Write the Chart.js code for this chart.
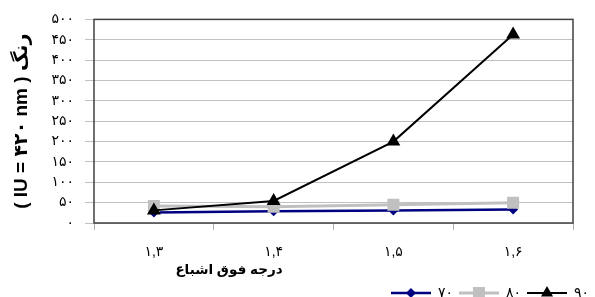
<!DOCTYPE html>
<html>
<head>
<meta charset="utf-8">
<script src="https://cdn.jsdelivr.net/npm/chart.js@4.4.1/dist/chart.umd.min.js"></script>
<style>
html,body{margin:0;padding:0;background:#fff;}
#wrap{width:595px;height:297px;position:relative;}
</style>
</head>
<body>
<div id="wrap"><canvas id="c" width="595" height="297"></canvas></div>
<script>
const categories = ['۱,۳', '۱,۴', '۱,۵', '۱,۶'];
const seriesNames = ['۷۰', '۸۰', '۹۰'];
const series70 = [26, 29, 31, 33];
const series80 = [42, 40, 45, 50];
const series90 = [31, 54, 200, 463];
const yTickLabels = ['۰','۵۰','۱۰۰','۱۵۰','۲۰۰','۲۵۰','۳۰۰','۳۵۰','۴۰۰','۴۵۰','۵۰۰'];
const xTitle = 'درجه فوق اشباع';
const yTitle = '( IU = ۴۲۰ nm ) رنگ';

const FONT = "'Liberation Sans', Arial, 'DejaVu Sans', sans-serif";

function legendImage(color, lw, style, r) {
  const cv = document.createElement('canvas');
  cv.width = 40; cv.height = 16;
  const g = cv.getContext('2d');
  g.strokeStyle = color; g.lineWidth = lw;
  g.beginPath(); g.moveTo(0, 8); g.lineTo(40, 8); g.stroke();
  g.fillStyle = color;
  g.beginPath();
  if (style === 'rectRot') {
    g.moveTo(20 - r, 8); g.lineTo(20, 8 - r); g.lineTo(20 + r, 8); g.lineTo(20, 8 + r);
  } else if (style === 'rect') {
    const s = Math.SQRT1_2 * r; g.rect(20 - s, 8 - s, 2 * s, 2 * s);
  } else {
    const h = r;
    g.moveTo(20, 8 - h); g.lineTo(20 + Math.sin(Math.PI*2/3)*h, 8 - Math.cos(Math.PI*2/3)*h);
    g.lineTo(20 - Math.sin(Math.PI*2/3)*h, 8 - Math.cos(Math.PI*2/3)*h);
  }
  g.closePath(); g.fill();
  return cv;
}

const styles = [
  {color:'#000080', lw:2.5, ps:'rectRot', r:5, lr:5, order:2},
  {color:'#c0c0c0', lw:3, ps:'rect', r:8.5, lr:8.5, order:1},
  {color:'#000000', lw:2, ps:'triangle', r:8, lr:7, order:0}
];
const dataArr = [series70, series80, series90];
const legendImgs = styles.map(s => legendImage(s.color, s.lw, s.ps, s.lr));

const framePlugin = {
  id: 'frame',
  beforeDatasetsDraw(chart) {
    const {ctx, chartArea: a} = chart;
    ctx.save();
    ctx.strokeStyle = '#404040';
    ctx.lineWidth = 1.5;
    ctx.strokeRect(a.left, a.top, a.right - a.left, a.bottom - a.top);
    ctx.restore();
  },
  afterDraw(chart) {
    const {ctx} = chart;
    ctx.save();
    ctx.font = "bold 13.5px " + FONT;
    ctx.fillStyle = '#000';
    ctx.textAlign = 'center';
    ctx.textBaseline = 'middle';
    ctx.fillText(xTitle, 229, 270);
    ctx.restore();
  }
};

new Chart(document.getElementById('c'), {
  type: 'line',
  data: {
    labels: categories,
    datasets: dataArr.map((d, i) => ({
      label: seriesNames[i],
      data: d,
      borderColor: styles[i].color,
      backgroundColor: styles[i].color,
      borderWidth: styles[i].lw,
      pointStyle: styles[i].ps,
      pointRadius: styles[i].r,
      pointHoverRadius: styles[i].r,
      pointBorderWidth: 0,
      order: styles[i].order,
      tension: 0,
      fill: false
    }))
  },
  options: {
    responsive: false,
    animation: false,
    devicePixelRatio: 1,
    layout: { padding: { left: 0, right: 0, top: 19, bottom: -13 } },
    plugins: {
      tooltip: { enabled: false },
      legend: {
        position: 'bottom',
        align: 'end',
        labels: {
          font: { size: 14, family: FONT },
          color: '#000',
          padding: 6,
          usePointStyle: true,
          pointStyleWidth: 40,
          sort: (a, b) => a.datasetIndex - b.datasetIndex,
          generateLabels: (chart) => Chart.defaults.plugins.legend.labels.generateLabels(chart).map(l => {
            l.pointStyle = legendImgs[l.datasetIndex];
            l.lineWidth = 0;
            return l;
          })
        }
      }
    },
    scales: {
      x: {
        offset: true,
        grid: { offset: true, drawOnChartArea: false, drawTicks: true, tickLength: 7, color: '#b0b0b0' },
        border: { display: false },
        ticks: { font: { size: 14, family: FONT }, color: '#000', padding: 14 },
        afterFit: (s) => { s.height = 57; }
      },
      y: {
        min: 0, max: 500,
        grid: { color: '#c0c0c0', tickLength: 9, lineWidth: 1 },
        border: { display: false },
        ticks: {
          stepSize: 50,
          font: { size: 14, family: FONT },
          color: '#000',
          padding: 11,
          callback: (v) => yTickLabels[Math.round(v / 50)]
        },
        title: {
          display: true,
          text: yTitle,
          font: { size: 19, weight: 'bold', family: FONT },
          color: '#000',
          padding: { top: 10, bottom: 0 }
        },
        afterFit: (s) => { s.width = 94; }
      },
      yR: {
        position: 'right',
        display: true,
        min: 0, max: 500,
        grid: { display: false, drawTicks: false },
        border: { display: false },
        ticks: { display: false },
        afterFit: (s) => { s.width = 22; }
      }
    }
  },
  plugins: [framePlugin]
});
</script>
</body>
</html>
